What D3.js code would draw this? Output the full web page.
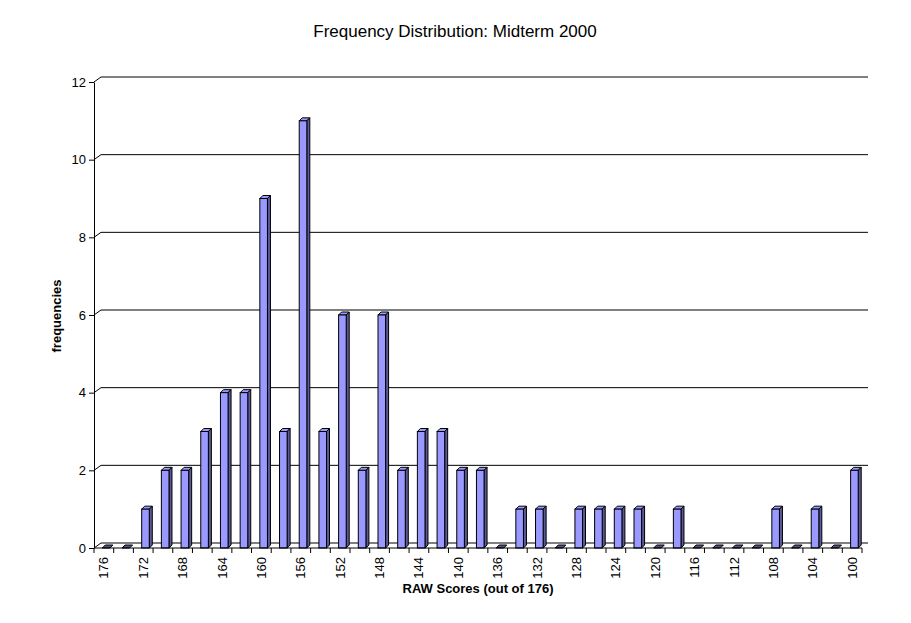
<!DOCTYPE html>
<html>
<head>
<meta charset="utf-8">
<script src="https://cdn.jsdelivr.net/npm/d3@7"></script>
<style>
  body { margin: 0; background: #fff; }
  text { font-family: "Liberation Sans", Arial, sans-serif; }
</style>
</head>
<body>
<div id="viz-container"></div>
<script>
// scores, high to low, step 2
let scores = [176,174,172,170,168,166,164,162,160,158,156,154,152,150,148,146,144,142,140,138,
              136,134,132,130,128,126,124,122,120,118,116,114,112,110,108,106,104,102,100];
let freqs  = [0,0,1,2,2,3,4,4,9,3,11,3,6,2,6,2,3,3,2,2,
              0,1,1,0,1,1,1,1,0,1,0,0,0,0,1,0,1,0,2];
let yTicks = [0,2,4,6,8,10,12];
let labelScores = [176,172,168,164,160,156,152,148,144,140,136,132,128,124,120,116,112,108,104,100];

let w = 911, h = 623;
let viz = d3.select("#viz-container").append("svg")
    .attr("width", w).attr("height", h);

let plotLeft = 94, plotRight = 862, plotBottom = 548, plotTop = 82;
let depthX = 7, depthY = -5;   // back wall offset

let xScale = d3.scaleBand().domain(scores).range([plotLeft, plotRight]).padding(0);
let yScale = d3.scaleLinear().domain([0, 12]).range([plotBottom, plotTop]);

// back wall gridlines + diagonal to axis
let grid = viz.append("g");
yTicks.forEach(function(v){
    let y = yScale(v);
    grid.append("line")
        .attr("x1", plotLeft).attr("y1", y)
        .attr("x2", plotLeft + depthX).attr("y2", y + depthY)
        .attr("stroke", "black");
    grid.append("line")
        .attr("x1", plotLeft + depthX).attr("y1", y + depthY)
        .attr("x2", plotRight + 6).attr("y2", y + depthY)
        .attr("stroke", "black");
});

// bars (pseudo 3d)
let bw = xScale.bandwidth();
let faceW = 7.6, off = 8.3, dep = 3;
let bars = viz.append("g");
scores.forEach(function(s, i){
    let x = xScale(s) + off;
    let y = yScale(freqs[i]);
    let hgt = plotBottom - y;
    // top face
    bars.append("path")
        .attr("d", "M" + x + "," + y + "L" + (x + dep) + "," + (y - dep) + "L" + (x + faceW + dep) + "," + (y - dep) + "L" + (x + faceW) + "," + y + "Z")
        .attr("fill", freqs[i] > 0 ? "#9999ff" : "#555588")
        .attr("stroke", "black").attr("stroke-width", 1);
    if (freqs[i] > 0) {
        // side face
        bars.append("path")
            .attr("d", "M" + (x + faceW) + "," + y + "L" + (x + faceW + dep) + "," + (y - dep) + "L" + (x + faceW + dep) + "," + (plotBottom - dep) + "L" + (x + faceW) + "," + plotBottom + "Z")
            .attr("fill", "#5a5a99")
            .attr("stroke", "black").attr("stroke-width", 1);
        // front face
        bars.append("rect")
            .attr("x", x).attr("y", y)
            .attr("width", faceW).attr("height", hgt)
            .attr("fill", "#9999ff")
            .attr("stroke", "black").attr("stroke-width", 1);
    }
});

// y axis
let yAxis = d3.axisLeft(yScale).tickValues(yTicks).tickSize(5).tickSizeOuter(0).tickPadding(3);
let yAxisGroup = viz.append("g").attr("transform", "translate(" + plotLeft + ",0)").call(yAxis);
yAxisGroup.selectAll("text").style("font-size", "13px").attr("fill", "black");
yAxisGroup.select(".domain").attr("stroke", "black");

// x axis: ticks at every category boundary
let xAxisGroup = viz.append("g");
xAxisGroup.append("line")
    .attr("x1", plotLeft).attr("y1", plotBottom)
    .attr("x2", plotRight).attr("y2", plotBottom)
    .attr("stroke", "black");
scores.concat(["end"]).forEach(function(s){
    let x = s === "end" ? plotRight : xScale(s);
    xAxisGroup.append("line")
        .attr("x1", x).attr("y1", plotBottom)
        .attr("x2", x).attr("y2", plotBottom + 5)
        .attr("stroke", "black");
});
xAxisGroup.selectAll(".xlab").data(labelScores).enter()
    .append("text")
    .attr("class", "xlab")
    .attr("transform", d => "translate(" + (xScale(d) + bw / 2 + 4.5) + "," + (plotBottom + 9) + ") rotate(-90)")
    .attr("text-anchor", "end")
    .style("font-size", "13px")
    .text(d => d);

// titles
viz.append("text")
    .attr("x", 455).attr("y", 37)
    .attr("text-anchor", "middle")
    .style("font-size", "17px")
    .text("Frequency Distribution: Midterm 2000");

viz.append("text")
    .attr("x", 478).attr("y", 593)
    .attr("text-anchor", "middle")
    .style("font-size", "13px").style("font-weight", "bold")
    .text("RAW Scores (out of 176)");

viz.append("text")
    .attr("transform", "translate(61,316) rotate(-90)")
    .attr("text-anchor", "middle")
    .style("font-size", "13px").style("font-weight", "bold")
    .text("frequencies");
</script>
</body>
</html>
